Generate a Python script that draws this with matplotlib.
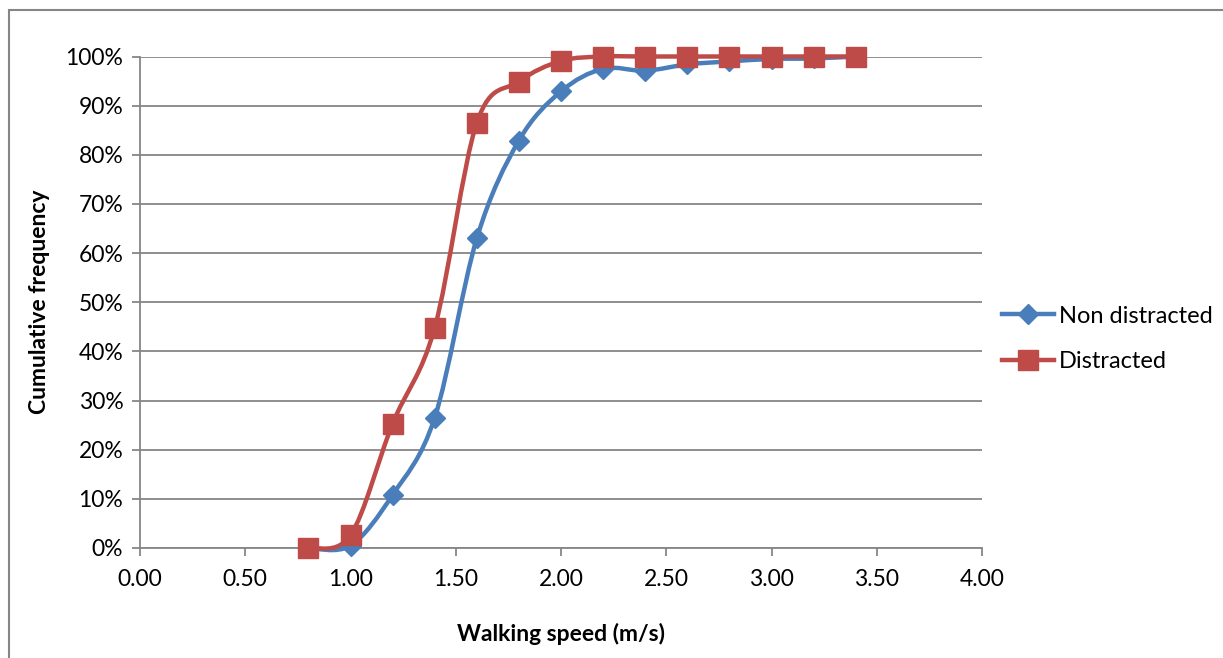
import numpy as np
import matplotlib
matplotlib.use("Agg")
import matplotlib.pyplot as plt
from matplotlib.path import Path
from matplotlib.patches import PathPatch, Rectangle
from matplotlib.lines import Line2D
from matplotlib.ticker import FuncFormatter, MultipleLocator

plt.rcParams['font.family'] = ['Lato', 'DejaVu Sans']

speed = [0.8, 1.0, 1.2, 1.4, 1.6, 1.8, 2.0, 2.2, 2.4, 2.6, 2.8, 3.0, 3.2, 3.4]
non_distracted = [0.0, 0.5, 10.8, 26.5, 63.0, 82.9, 92.9, 97.5, 97.1, 98.4, 99.0, 99.5, 99.6, 100.0]
distracted = [0.0, 2.6, 25.3, 44.8, 86.5, 94.9, 99.1, 100.0, 100.0, 100.0, 100.0, 100.0, 100.0, 100.0]
series_names = ["Non distracted", "Distracted"]

BLUE = "#4A7EBB"
RED = "#BE4B48"
GRID = "#868686"

W, H = 1223, 658
fig = plt.figure(figsize=(W / 100, H / 100), dpi=100)
L, R, T, B = 140, 982, 56.5, 548
ax = fig.add_axes([L / W, 1 - B / H, (R - L) / W, (B - T) / H])

# outer chart frame
fig.patches.append(Rectangle((9 / W, -0.05), 1.1, 1 - 10 / H + 0.05,
                             transform=fig.transFigure, fill=False,
                             edgecolor=GRID, linewidth=1.5))


def smooth_path(xs, ys):
    """Bezier path through the points with Catmull-Rom style control points."""
    xs = np.asarray(xs, float)
    ys = np.asarray(ys, float)
    pts = np.column_stack([xs, ys])
    n = len(pts)
    verts = [pts[0]]
    codes = [Path.MOVETO]
    for i in range(n - 1):
        p0 = pts[i - 1] if i > 0 else pts[i]
        p1 = pts[i]
        p2 = pts[i + 1]
        p3 = pts[i + 2] if i + 2 < n else pts[i + 1]
        c1 = p1 + (p2 - p0) / 6.0
        c2 = p2 - (p3 - p1) / 6.0
        verts += [c1, c2, p2]
        codes += [Path.CURVE4] * 3
    return Path(verts, codes)


D_MS, S_MS, LW = 10.5, 14, 3.2
for vals, color, marker, ms in [(non_distracted, BLUE, 'D', D_MS),
                                (distracted, RED, 's', S_MS)]:
    ax.add_patch(PathPatch(smooth_path(speed, vals), facecolor='none',
                           edgecolor=color, linewidth=LW, zorder=3,
                           capstyle='round', joinstyle='round', clip_on=False))
    ax.plot(speed, vals, linestyle='none', marker=marker, markersize=ms,
            markerfacecolor=color, markeredgecolor=color, zorder=4,
            clip_on=False)

ax.set_xlim(0, 4)
ax.set_ylim(0, 100)
ax.xaxis.set_major_locator(MultipleLocator(0.5))
ax.yaxis.set_major_locator(MultipleLocator(10))
ax.xaxis.set_major_formatter(FuncFormatter(lambda v, p: f"{v:.2f}"))
ax.yaxis.set_major_formatter(FuncFormatter(lambda v, p: f"{v:.0f}%"))

ax.grid(axis='y', color=GRID, linewidth=1.3)
ax.set_axisbelow(True)
for s in ['top', 'right']:
    ax.spines[s].set_visible(False)
for s in ['left', 'bottom']:
    ax.spines[s].set_color(GRID)
    ax.spines[s].set_linewidth(1.3)
ax.tick_params(axis='both', colors=GRID, labelcolor='black', labelsize=16.5,
               length=6, width=1.3, direction='out')
ax.tick_params(axis='y', pad=6)
ax.tick_params(axis='x', pad=9)

ax.set_xlabel("Walking speed (m/s)", fontsize=16.5, fontweight='bold', labelpad=24)
ax.set_ylabel("Cumulative frequency", fontsize=16.5, fontweight='bold', labelpad=11)

handles = [Line2D([], [], color=BLUE, linewidth=LW, marker='D', markersize=D_MS),
           Line2D([], [], color=RED, linewidth=LW, marker='s', markersize=S_MS)]
fig.legend(handles, series_names, loc='center left', frameon=False,
           bbox_to_anchor=(993 / W, 1 - 339 / H), fontsize=17,
           handlelength=2.2, handletextpad=0.2, labelspacing=1.05,
           borderaxespad=0)

fig.savefig("out.png", dpi=100)
